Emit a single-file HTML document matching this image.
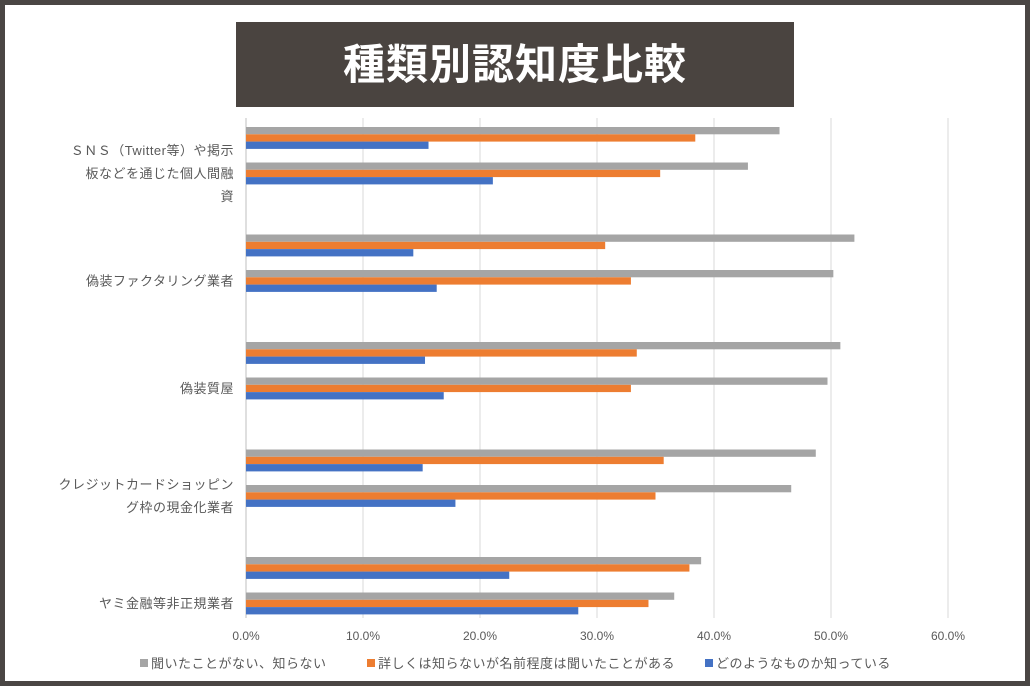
<!DOCTYPE html>
<html><head><meta charset="utf-8"><style>
body{margin:0;width:1030px;height:686px;overflow:hidden;background:#fff;font-family:"Liberation Sans","Noto Sans CJK JP",sans-serif;}
#frame{position:absolute;left:0;top:0;width:1020px;height:676px;border:5px solid #4a4644;background:#fff;}
#title{position:absolute;left:236px;top:22px;width:558px;height:85px;background:#4a4440;color:#fff;font-size:42px;font-weight:bold;text-align:center;line-height:85px;letter-spacing:1px;}
</style></head><body>
<div id="frame"></div>
<div id="title">種類別認知度比較</div>
<svg id="chart" width="1030" height="686" style="position:absolute;left:0;top:0"></svg>
<script>
const categories=["ＳＮＳ（Twitter等）や掲示|板などを通じた個人間融|資","偽装ファクタリング業者","偽装質屋","クレジットカードショッピン|グ枠の現金化業者","ヤミ金融等非正規業者"];
const seriesNames=["聞いたことがない、知らない","詳しくは知らないが名前程度は聞いたことがある","どのようなものか知っている"];
const grayA=[45.6,52.0,50.8,48.7,38.9];
const orangeA=[38.4,30.7,33.4,35.7,37.9];
const blueA=[15.6,14.3,15.3,15.1,22.5];
const grayB=[42.9,50.2,49.7,46.6,36.6];
const orangeB=[35.4,32.9,32.9,35.0,34.4];
const blueB=[21.1,16.3,16.9,17.9,28.4];
const ticks=[0,10,20,30,40,50,60];
const colors=["#a5a5a5","#ed7d31","#4472c4"];
const svg=document.getElementById('chart');const NS="http://www.w3.org/2000/svg";
const x=v=>246+v*11.7;
function el(t,a){const e=document.createElementNS(NS,t);for(const k in a)e.setAttribute(k,a[k]);svg.appendChild(e);return e;}
ticks.forEach(t=>{
 const g=el('line',{x1:x(t),x2:x(t),y1:118,y2:618,stroke:t===0?'#bfbfbf':'#d9d9d9','stroke-width':1});
 
 
 const l=el('text',{x:x(t),y:640,'text-anchor':'middle','font-size':12,fill:'#595959'});l.textContent=t.toFixed(1)+'%';
 
 
});
const sets=[[grayA,orangeA,blueA],[grayB,orangeB,blueB]];
categories.forEach((c,i)=>{
 const y0=127+i*107.5;
 sets.forEach((s,j)=>{
  s.forEach((arr,k)=>{
   const r=el('rect',{x:x(0),y:y0+j*35.5+k*7.3,width:x(arr[i])-x(0),height:7.3,fill:colors[k]});
   
   
  });
 });
 const lines=c.split('|');const cy=y0+46;
 lines.forEach((ln,m)=>{
  const t=el('text',{x:234,y:cy+(m-(lines.length-1)/2)*23+5,'text-anchor':'end','font-size':13,fill:'#595959','letter-spacing':0.5});t.textContent=ln;
  
  
 });
});
const lx=[140,367,705];
seriesNames.forEach((n,k)=>{
 const r=el('rect',{x:lx[k],y:659,width:8,height:8,fill:colors[k]});
 
 
 const t=el('text',{x:lx[k]+11,y:668,'font-size':13,fill:'#595959','letter-spacing':0.5});t.textContent=n;
 
 
});
</script>
</body></html>
